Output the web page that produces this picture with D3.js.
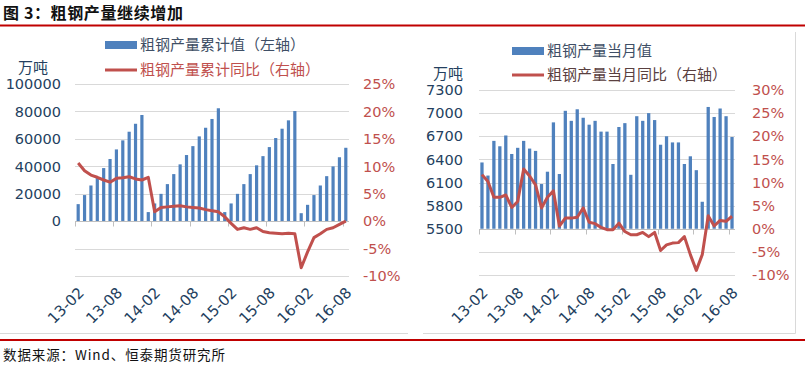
<!DOCTYPE html>
<html><head><meta charset="utf-8">
<script src="https://cdn.jsdelivr.net/npm/d3@7/dist/d3.min.js"></script>
<style>
html,body{margin:0;padding:0;background:#fff;}
svg{display:block;}
</style></head>
<body>
<svg id="c" width="805" height="366"></svg>
<script>
const months = ["13-02","13-03","13-04","13-05","13-06","13-07","13-08","13-09","13-10","13-11","13-12",
"14-01","14-02","14-03","14-04","14-05","14-06","14-07","14-08","14-09","14-10","14-11","14-12",
"15-01","15-02","15-03","15-04","15-05","15-06","15-07","15-08","15-09","15-10","15-11","15-12",
"16-01","16-02","16-03","16-04","16-05","16-06","16-07","16-08"];
const tickLabels = ["13-02","13-08","14-02","14-08","15-02","15-08","16-02","16-08"];

// Left panel: cumulative output (万吨) and cumulative YoY (%)
const cumValues = [12400,19000,26000,32200,38700,45300,52300,58900,65200,71000,77400,
 6600,12900,19900,27000,34300,41400,48200,54700,61800,68100,74500,82300,
 6600,12900,19900,27000,34300,40700,47400,54000,60600,67400,73500,80300,
 5800,11900,19000,26000,32800,39900,46600,53500];
const cumYoY = [10.6,9.2,8.4,8.0,7.5,7.1,7.8,7.9,8.1,7.7,7.5,
 8.0,1.7,2.5,2.6,2.7,2.8,2.6,2.5,2.4,2.1,1.9,1.7,
 0.8,-0.4,-1.5,-1.2,-1.5,-1.2,-1.9,-2.1,-2.2,-2.3,-2.2,-2.3,
 -8.5,-5.6,-3.0,-2.3,-1.5,-1.2,-0.6,0.0];

// Right panel: monthly output (万吨) and monthly YoY (%)
const monthly = [6360,6190,6640,6570,6710,6470,6550,6640,6540,6510,
 6080,6240,6880,6210,7030,6900,7050,6940,6850,6900,
 6760,6760,6340,6820,6870,6200,6960,6900,7000,6910,
 6590,6700,6620,6620,6340,6440,6260,5850,7080,6950,
 7060,6960,6690];
const monthlyYoY = [11.7,10.2,6.8,6.8,7.3,4.6,5.9,12.9,11.4,9.5,
 4.5,6.8,8.2,0.6,2.3,2.3,2.5,4.5,1.4,1.1,
 0.3,-0.2,-0.2,1.2,-0.6,-1.3,-1.3,-0.8,-1.7,-0.8,
 -4.7,-3.5,-3.1,-3.0,-1.7,-5.6,-9.0,-5.6,2.8,0.6,
 1.8,1.6,2.7];

const leftTicks = [0,20000,40000,60000,80000,100000];
const leftPct = [-10,-5,0,5,10,15,20,25];
const rightTicks = [5500,5800,6100,6400,6700,7000,7300];
const rightPct = [-10,-5,0,5,10,15,20,25,30];

const BAR = "#4f81bd", LINE = "#c0504d", NAVY = "#243f60", GRID = "#d9d9d9";
const NUMFONT = "DejaVu Sans, Verdana, sans-serif";
const CJK = "'Noto Sans CJK SC', sans-serif";

const svg = d3.select("#c");

// Title
svg.append("text").attr("x",3).attr("y",19).attr("font-family",CJK).attr("font-weight","bold")
  .attr("font-size",16).attr("fill","#111").attr("textLength",180).attr("lengthAdjust","spacing")
  .text("图 3：粗钢产量继续增加");
svg.append("line").attr("x1",0).attr("x2",805).attr("y1",25.5).attr("y2",25.5)
  .attr("stroke","#c00000").attr("stroke-width",2);

// panel frames
svg.append("line").attr("x1",0).attr("x2",408).attr("y1",333.5).attr("y2",333.5).attr("stroke",GRID);
svg.append("line").attr("x1",423).attr("x2",795.5).attr("y1",333.5).attr("y2",333.5).attr("stroke",GRID);
svg.append("line").attr("x1",795.5).attr("x2",795.5).attr("y1",32).attr("y2",333.5).attr("stroke",GRID);

// bottom rule + source
svg.append("line").attr("x1",0).attr("x2",805).attr("y1",340).attr("y2",340)
  .attr("stroke","#c00000").attr("stroke-width",2);
svg.append("text").attr("x",3).attr("y",360).attr("font-family",CJK)
  .attr("font-size",13.5).attr("fill","#111").attr("textLength",222).attr("lengthAdjust","spacing")
  .text("数据来源：Wind、恒泰期货研究所");

function panel(o){
  const g = svg.append("g");
  const x = d3.scaleBand().domain(months).range([o.x0,o.x1]).padding(0);
  const yL = d3.scaleLinear().domain(o.leftDomain).range([o.yBottom,o.yTop]);
  const yR = d3.scaleLinear().domain(o.rightDomain).range([o.yBottom,o.yTop]);
  // gridlines
  g.selectAll(".grid").data(o.rightTicks).enter().append("line")
    .attr("x1",o.x0).attr("x2",o.x1)
    .attr("y1",d=>Math.round(yR(d))+0.5).attr("y2",d=>Math.round(yR(d))+0.5)
    .attr("stroke",GRID).attr("stroke-width",1);
  // bars
  const bw = x.bandwidth()*o.barFrac;
  g.selectAll(".bar").data(o.bars).enter().append("rect")
    .attr("x",(d,i)=>x(months[i])+(x.bandwidth()-bw)/2)
    .attr("width",bw)
    .attr("y",d=>yL(d))
    .attr("height",d=>yL(o.base)-yL(d))
    .attr("fill",BAR);
  // category axis line and ticks
  const by = Math.round(yL(o.base))+0.5;
  g.append("line").attr("x1",o.x0).attr("x2",o.x1).attr("y1",by).attr("y2",by).attr("stroke","#bfbfbf");
  g.selectAll(".tk").data(tickLabels).enter().append("line")
    .attr("x1",d=>Math.round(x(d))+0.5).attr("x2",d=>Math.round(x(d))+0.5)
    .attr("y1",by).attr("y2",by+5).attr("stroke","#bfbfbf");
  // x labels
  g.selectAll(".xl").data(tickLabels).enter().append("text")
    .attr("transform",d=>`translate(${x(d)+x.bandwidth()/2+3},${o.labelY}) rotate(-45)`)
    .attr("text-anchor","end").attr("dy","0.35em")
    .attr("font-family",NUMFONT).attr("font-size",15).attr("fill",NAVY).text(d=>d);
  // line
  const line = d3.line().x((d,i)=>x(months[i])+x.bandwidth()/2).y(d=>yR(d));
  g.append("path").datum(o.line).attr("d",line).attr("fill","none")
    .attr("stroke",LINE).attr("stroke-width",3).attr("stroke-linejoin","round");
  // left axis labels
  g.selectAll(".yl").data(o.leftTicks).enter().append("text")
    .attr("x",o.leftLabelX).attr("y",d=>yL(d)).attr("dy","0.36em").attr("text-anchor","end")
    .attr("font-family",NUMFONT).attr("font-size",14.5).attr("fill",NAVY).text(d=>d);
  // right axis labels
  g.selectAll(".yr").data(o.rightTicks).enter().append("text")
    .attr("x",o.rightLabelX).attr("y",d=>yR(d)).attr("dy","0.36em").attr("text-anchor","start")
    .attr("font-family",NUMFONT).attr("font-size",14.5).attr("fill",LINE).text(d=>d+"%");
  // unit
  g.append("text").attr("x",o.unitX).attr("y",o.unitY).attr("font-family",CJK)
    .attr("font-size",15).attr("fill",NAVY).text("万吨");
  // legend
  g.append("rect").attr("x",o.legX).attr("y",o.leg1Y-4).attr("width",32).attr("height",8).attr("fill",BAR);
  g.append("text").attr("x",o.legX+35).attr("y",o.leg1Y).attr("dy","0.36em").attr("font-family",CJK)
    .attr("font-size",15).attr("fill",o.leg1Color).text(o.leg1);
  g.append("line").attr("x1",o.legX).attr("x2",o.legX+32).attr("y1",o.leg2Y).attr("y2",o.leg2Y)
    .attr("stroke",LINE).attr("stroke-width",3);
  g.append("text").attr("x",o.legX+35).attr("y",o.leg2Y).attr("dy","0.36em").attr("font-family",CJK)
    .attr("font-size",15).attr("fill",o.leg2Color).text(o.leg2);
}

panel({x0:75,x1:349,yTop:84,yBottom:276,leftDomain:[-40000,100000],rightDomain:[-10,25],
  base:0,bars:cumValues,line:cumYoY,leftTicks:leftTicks,rightTicks:leftPct,barFrac:0.5,
  labelY:290,leftLabelX:61,rightLabelX:363,unitX:18,unitY:73,
  legX:105,leg1Y:45,leg2Y:70,leg1:"粗钢产量累计值（左轴）",leg2:"粗钢产量累计同比（右轴）",
  leg1Color:"#3f4f66",leg2Color:LINE});

panel({x0:479,x1:735,yTop:90,yBottom:275,leftDomain:[4900,7300],rightDomain:[-10,30],
  base:5500,bars:monthly,line:monthlyYoY,leftTicks:rightTicks,rightTicks:rightPct,barFrac:0.55,
  labelY:290,leftLabelX:463,rightLabelX:752,unitX:433,unitY:79,
  legX:512,leg1Y:51,leg2Y:75,leg1:"粗钢产量当月值",leg2:"粗钢产量当月同比（右轴）",
  leg1Color:"#3f4f66",leg2Color:"#5a4040"});
</script>
</body></html>
